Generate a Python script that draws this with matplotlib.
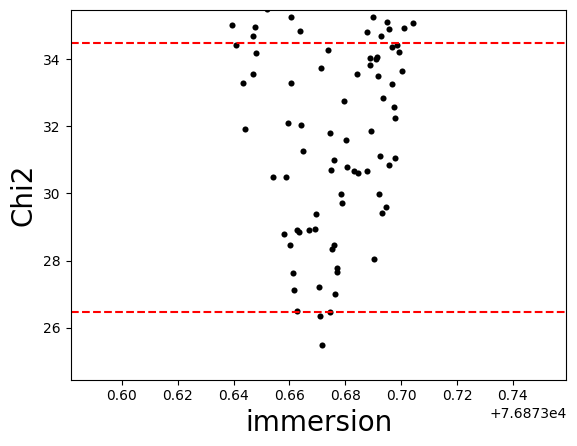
import matplotlib
matplotlib.use("Agg")
import matplotlib.pyplot as plt
import numpy as np

# immersion times (fraction part added to the base) and chi2 values
base = 76873.0
immersion_frac = [
    0.6520, 0.6604, 0.6395, 0.6477, 0.6470, 0.6638, 0.6409, 0.6481, 0.6714, 0.6470,
    0.6434, 0.6604, 0.6900, 0.6949, 0.7043, 0.6957, 0.7011, 0.6878, 0.6928, 0.6986,
    0.6968, 0.6739, 0.6993, 0.6889, 0.6914, 0.6910, 0.6889, 0.7004, 0.6842, 0.6918,
    0.6968, 0.7014, 0.6441, 0.6595, 0.6642, 0.6649, 0.6542, 0.6588, 0.6796, 0.6936,
    0.6975, 0.6979, 0.6745, 0.6893, 0.6803, 0.6925, 0.6979, 0.6760, 0.6957, 0.6749,
    0.6807, 0.6832, 0.6846, 0.6878, 0.6696, 0.6581, 0.6628, 0.6635, 0.6671, 0.6692,
    0.6603, 0.6785, 0.6789, 0.6921, 0.6946, 0.6932, 0.6760, 0.6753, 0.6903, 0.6771,
    0.6613, 0.6617, 0.6706, 0.6628, 0.6710, 0.6717, 0.6769, 0.6764, 0.6745,
]
chi2 = [
    35.479, 35.241, 35.003, 34.943, 34.676, 34.824, 34.408, 34.170, 33.723, 33.545,
    33.277, 33.277, 35.241, 35.092, 35.062, 34.884, 34.914, 34.795, 34.676, 34.408,
    34.348, 34.259, 34.199, 34.021, 34.051, 33.991, 33.812, 33.634, 33.545, 33.485,
    33.247, 35.610, 31.908, 32.086, 32.027, 31.253, 30.479, 30.479, 32.741, 32.830,
    32.562, 32.235, 31.789, 31.848, 31.580, 31.104, 31.045, 30.985, 30.836, 30.688,
    30.777, 30.658, 30.598, 30.658, 29.378, 28.783, 28.902, 28.842, 28.902, 28.932,
    28.455, 29.973, 29.705, 29.973, 29.586, 29.408, 28.455, 28.336, 28.039, 27.771,
    27.640, 27.116, 27.223, 26.491, 26.342, 25.479, 27.670, 26.997, 26.461,
]

immersion = base + np.array(immersion_frac)
chi2 = np.array(chi2)
chi2_min = chi2.min()

fig = plt.figure(figsize=(5.77, 4.46), dpi=100)
ax = fig.add_axes([0.1222, 0.1489, 0.8596, 0.8287])

ax.plot(immersion, chi2, 'o', color='k', ms=4.4, mew=0)
ax.axhline(chi2_min + 1, color='r', ls='--')
ax.axhline(chi2_min + 9, color='r', ls='--')

ax.set_xlim(base + 0.5816, base + 0.7592)
ax.set_ylim(chi2_min - 1.02, chi2_min + 9.98)
ax.set_xlabel('immersion', fontsize=20)
ax.set_ylabel('Chi2', fontsize=20)

fig.savefig('out.png', dpi=100)
